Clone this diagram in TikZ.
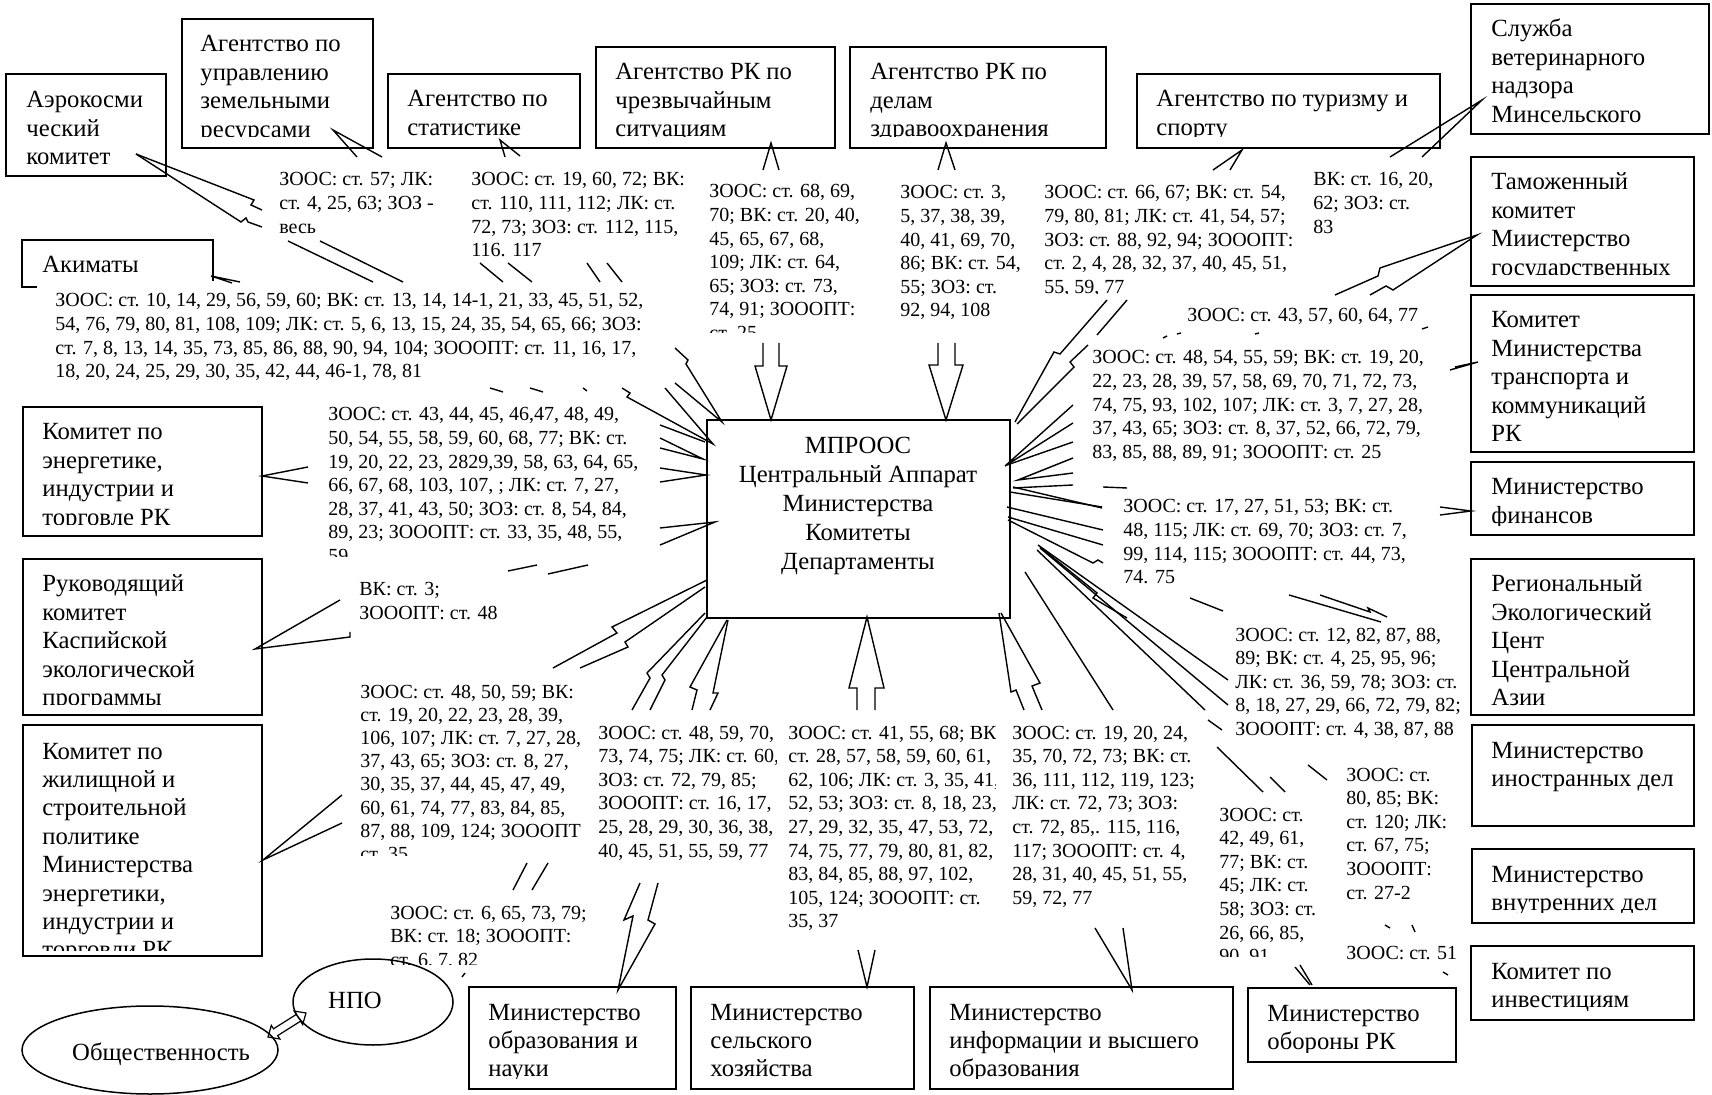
\documentclass[tikz,border=0pt]{standalone}
\usepackage{fontspec}
\setmainfont{Liberation Serif}
\usetikzlibrary{fit,shapes.geometric}
\newcommand\bfnt{\fontsize{12.35}{14.2}\selectfont}
\newcommand\lfnt{\fontsize{10.0}{11.8}\selectfont}
\tikzset{
 obox/.style={draw, line width=0.75pt, inner sep=0pt},
 btxt/.style={font=\bfnt, inner sep=0pt, anchor=base west},
 ctxt/.style={font=\bfnt, inner sep=0pt, anchor=base},
 ltxt/.style={font=\lfnt, inner sep=0pt, anchor=base west},
 con/.style={line width=0.7pt, line join=miter},
}
% name, style, x, first baseline, dy, clip bottom, clip right, lines
\newcommand\mytxt[8]{\begin{scope}\clip (#3-20,#4-40) rectangle (#7,#6);
 \foreach \t [count=\i] in {#8} {\node[#2] (#1-\i) at (#3,{#4+#5*(\i-1)}) {\t};}\end{scope}}
\newcommand\bx[5]{\node[obox, fit={(#2,#3) (#4,#5)}] (#1) {};}
\begin{document}
\begin{tikzpicture}[x=0.5pt,y=-0.5pt]
\fill[white] (0,0) rectangle (1712,1095);
\useasboundingbox (0,0) rectangle (1712,1095);
% ---------- boxes ----------
\bx{aero}{6}{74}{166}{176}
\mytxt{aeroT}{btxt}{26}{108}{28.4}{165}{400}{Аэрокосми,ческий,комитет}
\bx{zem}{182}{19}{373}{148}
\mytxt{zemT}{btxt}{200}{52}{28.4}{137}{370}{Агентство по,управлению,земельными,ресурсами}
\bx{stat}{388}{74}{580}{148}
\mytxt{statT}{btxt}{407}{107}{28.4}{137}{578}{Агентство по,статистике}
\bx{chs}{596}{47}{835}{148}
\mytxt{chsT}{btxt}{615}{80}{28.4}{137}{833}{Агентство РК по,чрезвычайным,ситуациям}
\bx{zdr}{850}{47}{1106}{148}
\mytxt{zdrT}{btxt}{870}{80}{28.4}{137}{1104}{Агентство РК по,делам,здравоохранения}
\bx{tur}{1137}{74}{1440}{148}
\mytxt{turT}{btxt}{1156}{107}{28.4}{137}{1438}{Агентство по туризму и,спорту}
\bx{vet}{1471}{4}{1709}{134}
\mytxt{vetT}{btxt}{1491}{37}{28.4}{123}{1707}{Служба,ветеринарного,надзора,Минсельского}
\bx{tam}{1471}{157}{1694}{286}
\mytxt{tamT}{btxt}{1491}{190}{28.4}{275}{1692}{Таможенный,комитет,Миистерство,государственных}
\bx{trn}{1471}{295}{1694}{452}
\mytxt{trnT}{btxt}{1491}{328}{28.4}{444}{1692}{Комитет,Министерства,транспорта и,коммуникаций,РК}
\bx{fin}{1471}{462}{1694}{535}
\mytxt{finT}{btxt}{1491}{495}{28.4}{526}{1692}{Министерство,финансов}
\bx{reg}{1471}{559}{1694}{715}
\mytxt{regT}{btxt}{1491}{592}{28.4}{706}{1692}{Региональный,Экологический,Цент,Центральной,Азии}
\bx{mid}{1472}{725}{1694}{826}
\mytxt{midT}{btxt}{1491}{758}{28.4}{815}{1692}{Министерство,иностранных дел}
\bx{mvd}{1472}{849}{1694}{923}
\mytxt{mvdT}{btxt}{1491}{882}{28.4}{912}{1692}{Министерство,внутренних дел}
\bx{inv}{1471}{946}{1694}{1020}
\mytxt{invT}{btxt}{1491}{979}{28.4}{1010}{1692}{Комитет по,инвестициям}
\bx{def}{1248}{988}{1456}{1062}
\mytxt{defT}{btxt}{1267}{1021}{28.4}{1052}{1454}{Министерство,обороны РК}
\bx{info}{930}{987}{1233}{1089}
\mytxt{infoT}{btxt}{949}{1020}{28.4}{1078}{1231}{Министерство,информации и высшего,образования}
\bx{sel}{691}{987}{914}{1089}
\mytxt{selT}{btxt}{710}{1020}{28.4}{1078}{912}{Министерство,сельского,хозяйства}
\bx{obr}{469}{987}{676}{1089}
\mytxt{obrT}{btxt}{488}{1020}{28.4}{1078}{674}{Министерство,образования и,науки}
\bx{ener}{23}{407}{262}{536}
\mytxt{enerT}{btxt}{42}{440}{28.4}{525}{260}{Комитет по,{энергетике,},индустрии и,торговле РК}
\bx{kasp}{23}{559}{262}{715}
\mytxt{kaspT}{btxt}{42}{592}{28.4}{704}{260}{Руководящий,комитет,Каспийской,экологической,программы}
\bx{zhil}{23}{725}{262}{956}
\mytxt{zhilT}{btxt}{42}{759}{28.4}{950}{260}{Комитет по,жилищной и,строительной,политике,Министерства,{энергетики,},индустрии и,торговли РК}
\node[inner sep=0pt, fit={(22,240) (213,287)}] (akim) {};
\draw[line width=0.75pt] (37,287)--(22,287)--(22,240)--(213,240)--(213,281);
\mytxt{akimT}{btxt}{42}{273}{28.4}{300}{210}{Акиматы}
% central box
\node[obox, fit={(707,420) (1010,618)}] (C) {};
\foreach \t [count=\i] in {МПРООС,Центральный Аппарат,Министерства,Комитеты,Департаменты}
  {\node[ctxt] (CT-\i) at (858,{454+29*(\i-1)}) {\t};}
% ellipses
\node[draw, ellipse, line width=0.75pt, minimum width=80pt, minimum height=43pt, inner sep=0pt] (npo) at (373,1002) {};
\node[font=\bfnt, inner sep=0pt] (npoT) at (355,1000) {НПО};
\node[draw, ellipse, line width=0.75pt, minimum width=128pt, minimum height=44pt, inner sep=0pt] (obs) at (150,1050) {};
\node[font=\bfnt, inner sep=0pt] (obsT) at (161,1054) {Общественность};
\draw[line width=0.6pt] (268,1037)--(279.9,1039.0)--(277.7,1035.6)--(300.5,1021.2)--(302.7,1024.6)--(306,1013)--(294.1,1011.0)--(296.3,1014.4)--(273.5,1028.8)--(271.3,1025.4)--cycle;
% ---------- labels ----------
\mytxt{l57}{ltxt}{279}{186}{23.6}{240}{470}{{ЗООС: ст. 57; ЛК:},{ст. 4, 25, 63; ЗОЗ  -},весь}
\mytxt{lst}{ltxt}{471}{186}{23.6}{262}{700}{{ЗООС: ст. 19, 60, 72; ВК:},{ст. 110, 111, 112; ЛК: ст.},{72, 73; ЗОЗ: ст. 112, 115,},116. 117}
\mytxt{lch}{ltxt}{709}{198}{23.6}{333}{900}{{ЗООС: ст. 68, 69,},{70; ВК: ст. 20, 40,},{45, 65, 67, 68,},{109; ЛК: ст. 64,},{65; ЗОЗ: ст. 73,},{74, 91; ЗОООПТ:},ст. 25}
\mytxt{lzd}{ltxt}{900}{199}{23.6}{340}{1040}{{ЗООС: ст. 3,},{5, 37, 38, 39,},{40, 41, 69, 70,},{86; ВК: ст. 54,},{55;  ЗОЗ: ст.},{92, 94, 108}}
\mytxt{ltu}{ltxt}{1044}{199}{23.6}{294}{1300}{{ЗООС: ст. 66, 67; ВК: ст. 54,},{79, 80, 81; ЛК: ст. 41, 54, 57;},{ЗОЗ: ст.  88, 92, 94; ЗОООПТ:},{ст. 2, 4, 28, 32, 37, 40, 45, 51,},{55, 59, 77}}
\mytxt{lvt}{ltxt}{1313}{186}{23.6}{260}{1465}{{ВК: ст. 16, 20,},{62; ЗОЗ: ст.},83}
\mytxt{ltm}{ltxt}{1187}{322}{23.6}{340}{1460}{{ЗООС: ст. 43, 57, 60, 64, 77}}
\mytxt{ltr}{ltxt}{1092}{364}{23.6}{470}{1460}{{ЗООС: ст. 48, 54, 55, 59; ВК: ст. 19, 20,},{22, 23, 28, 39, 57, 58, 69, 70, 71, 72, 73,},{74, 75, 93, 102, 107; ЛК: ст. 3, 7, 27, 28,},{37, 43, 65; ЗОЗ: ст.  8, 37, 52, 66, 72, 79,},{83, 85, 88, 89, 91; ЗОООПТ: ст. 25}}
\mytxt{lfi}{ltxt}{1123}{513}{23.6}{585}{1460}{{ЗООС: ст. 17, 27, 51, 53; ВК: ст.},{48, 115; ЛК: ст. 69, 70; ЗОЗ: ст.  7,},{99, 114, 115; ЗОООПТ: ст. 44, 73,},74. 75}
\mytxt{lre}{ltxt}{1235}{641}{23.6}{740}{1465}{{ЗООС: ст. 12, 82, 87, 88,},{89; ВК: ст. 4, 25, 95, 96;},{ЛК: ст. 36, 59, 78; ЗОЗ: ст.},{8, 18, 27, 29, 66, 72, 79, 82;},{ЗОООПТ: ст. 4, 38, 87, 88}}
\mytxt{lfo}{ltxt}{1346}{781}{23.6}{905}{1465}{ЗООС: ст.,{80, 85; ВК:},{ст. 120; ЛК:},{ст. 67, 75;},ЗОООПТ:,ст. 27-2}
\mytxt{ldf}{ltxt}{1219}{821}{23.6}{956}{1340}{ЗООС: ст.,{42, 49, 61,},{77; ВК: ст.},{45; ЛК: ст.},{58; ЗОЗ: ст.},{26, 66, 85,},{90, 91}}
\mytxt{lin}{ltxt}{1346}{959}{23.6}{980}{1465}{{ЗООС: ст. 51}}
\mytxt{lif}{ltxt}{1012}{739}{23.6}{915}{1215}{{ЗООС: ст. 19, 20, 24,},{35, 70, 72, 73; ВК: ст.},{36, 111, 112, 119, 123;},{ЛК: ст. 72, 73; ЗОЗ:},{ст. 72, 85,. 115, 116,},{117; ЗОООПТ: ст. 4,},{28, 31, 40, 45, 51, 55,},{59, 72, 77}}
\mytxt{lse}{ltxt}{788}{739}{23.6}{935}{995}{{ЗООС: ст. 41, 55, 68; ВК:},{ст. 28, 57, 58, 59, 60, 61,},{62, 106; ЛК: ст. 3, 35, 41,},{52, 53; ЗОЗ: ст. 8, 18, 23,},{27, 29, 32, 35, 47, 53, 72,},{74, 75, 77, 79, 80, 81, 82,},{83, 84, 85, 88, 97, 102,},{105, 124; ЗОООПТ: ст.},{35, 37}}
\mytxt{lob}{ltxt}{598}{739}{23.6}{870}{776}{{ЗООС: ст. 48, 59, 70,},{73, 74, 75; ЛК: ст. 60,},{ЗОЗ: ст. 72, 79, 85;},{ЗОООПТ: ст. 16, 17,},{25, 28, 29, 30, 36, 38,},{40, 45, 51, 55, 59, 77}}
\mytxt{lzh}{ltxt}{360}{698}{23.2}{855}{596}{{ЗООС: ст. 48, 50, 59; ВК:},{ст. 19, 20, 22, 23, 28, 39,},{106, 107; ЛК: ст. 7, 27, 28,},{37, 43, 65; ЗОЗ: ст. 8, 27,},{30, 35, 37, 44, 45, 47, 49,},{60, 61, 74, 77, 83, 84, 85,},{87, 88, 109, 124; ЗОООПТ},ст. 35}
\mytxt{lnp}{ltxt}{390}{919}{23.6}{964}{600}{{ЗООС: ст. 6, 65, 73, 79;},{ВК: ст. 18; ЗОООПТ:},{ст. 6, 7, 82}}
\mytxt{lka}{ltxt}{359}{596}{23.6}{650}{600}{{ВК: ст. 3;},{ЗОООПТ: ст. 48}}
\mytxt{len}{ltxt}{328}{421}{23.6}{557}{660}{{ЗООС: ст. 43, 44, 45, 46,47, 48, 49,},{50, 54, 55, 58, 59, 60, 68, 77; ВК: ст.},{19, 20, 22, 23, 2829,39, 58, 63, 64, 65,},{66, 67, 68, 103, 107, ; ЛК: ст. 7, 27,},{28,  37, 41, 43, 50; ЗОЗ: ст. 8, 54, 84,},{89, 23; ЗОООПТ: ст. 33, 35, 48, 55,},59}
\mytxt{lak}{ltxt}{55}{307}{23.6}{381}{700}{{ЗООС: ст. 10, 14, 29, 56, 59, 60; ВК: ст. 13, 14, 14-1, 21, 33, 45, 51, 52,},{54, 76, 79, 80, 81, 108, 109; ЛК: ст. 5, 6, 13, 15, 24, 35, 54, 65, 66; ЗОЗ:},{ст. 7, 8, 13, 14, 35, 73, 85, 86, 88, 90, 94, 104; ЗОООПТ: ст. 11, 16, 17,},{18, 20, 24, 25, 29, 30, 35, 42, 44, 46-1, 78, 81}}
% ---------- connectors ----------
% aerospace
\draw[con] (136,154)--(254,200)--(251,205)--(262,210);
\draw[con] (136,154)--(241,222)--(246,218)--(248,222)--(262,227);
\draw[con] (288,241)--(373,282);
\draw[con] (320,241)--(403,282);
% land resources
\draw[con] (357,157)--(333,130)--(382,157);
% statistics
\draw[con] (505,157)--(500,140)--(520,156);
\draw[con] (480,263)--(503,282);
\draw[con] (508,263)--(532,282);
\draw[con] (587,263)--(600,282);
\draw[con] (607,263)--(622,282);
% akimats
\draw[con] (240,282)--(211,276)--(232,283);
\draw[con] (490,388)--(503,392);
\draw[con] (530,388)--(543,392);
\draw[con] (583,388)--(587,391);
% emergency
\draw[con] (763,170)--(771,143)--(779,170);
\draw[con] (763,343)--(763,366)--(755,366)--(771,420)--(787,366)--(779,366)--(779,343);
% health
\draw[con] (938,170)--(946,143)--(955,170);
\draw[con] (938,343)--(938,365)--(929,365)--(946,420)--(963,365)--(955,365)--(955,343);
% tourism
\draw[con] (1213,170)--(1242,150)--(1230,170);
\draw[con] (1107,300)--(1060,354)--(1054,352)--(1015,422);
\draw[con] (1127,300)--(1097,335);
\draw[con] (1088,345)--(1070,362)--(1074,367)--(1017,424);
% veterinary
\draw[con] (1390,157)--(1482,100)--(1422,157);
% customs
\draw[con] (1335,295)--(1378,276)--(1380,268)--(1477,235)--(1393,290)--(1386,286)--(1370,295);
\draw[con] (1422,329)--(1428,327);
\draw[con] (1163,338)--(1167,336);
\draw[con] (1177,334)--(1181,333);
\draw[con] (1255,334)--(1259,333);
% transport
\draw[con] (1450,370)--(1478,362)--(1455,367);
\draw[con] (1073,405)--(1005,466)--(1073,423);
\draw[con] (1073,442)--(1007,465);
\draw[con] (1073,458)--(1018,480)--(1073,473);
\draw[con] (1013,488)--(1073,485);
% finance
\draw[con] (1440,507)--(1471,511)--(1440,515);
\draw[con] (1013,487)--(1102,508);
\draw[con] (1010,492)--(1102,507);
\draw[con] (1103,487)--(1127,488);
% lower right fan
\draw[con] (1007,507)--(1103,530);
\draw[con] (1008,517)--(1103,545);
\draw[con] (1008,520)--(1093,563)--(1098,560)--(1103,563);
\draw[con] (1040,547)--(1097,593)--(1093,598)--(1127,618);
\draw[con] (1038,545)--(1228,680);
\draw[con] (1040,548)--(1228,705);
\draw[con] (1037,550)--(1205,710);
\draw[con] (1025,572)--(1113,710);
\draw[con] (1190,598)--(1223,611);
\draw[con] (1289,595)--(1381,622);
\draw[con] (1320,595)--(1370,612)--(1368,608)--(1387,617);
\draw[con] (1208,720)--(1222,730);
\draw[con] (1217,747)--(1263,792);
\draw[con] (1270,777)--(1285,792);
\draw[con] (1308,765)--(1327,780);
\draw[con] (1385,925)--(1390,928);
\draw[con] (1412,925)--(1415,932);
\draw[con] (1443,972)--(1448,975);
\draw[con] (1295,967)--(1310,985);
\draw[con] (1300,965)--(1312,985);
% information (lightning)
\draw[con] (999,613)--(1011,692)--(1016,690)--(1024,710);
\draw[con] (1001,613)--(1040,683)--(1032,686)--(1042,710);
\draw[con] (1095,928)--(1132,990)--(1123,928);
% agriculture
\draw[con] (857,710)--(857,688)--(849,688)--(867,617)--(884,688)--(875,688)--(875,710);
\draw[con] (858,950)--(867,987)--(875,950);
% left fan
\draw[con] (622,388)--(630,393)--(627,397)--(713,444)--(665,388);
\draw[con] (675,348)--(688,360)--(686,364)--(722,422)--(675,383);
\draw[con] (660,425)--(705,442);
\draw[con] (660,438)--(703,459)--(660,448);
\draw[con] (660,468)--(706,475)--(660,482);
\draw[con] (660,528)--(715,522)--(660,545);
\draw[con] (508,571)--(537,565);
\draw[con] (548,574)--(588,565);
% energy / caspian / housing
\draw[con] (308,467)--(262,476)--(308,483);
\draw[con] (340,600)--(255,649)--(350,637)--(350,632);
\draw[con] (707,580)--(612,627)--(617,633)--(553,668);
\draw[con] (705,587)--(625,642)--(628,647)--(580,668);
\draw[con] (342,795)--(263,860)--(342,823);
% bottom-left fan
\draw[con] (705,613)--(647,673)--(650,678)--(632,710);
\draw[con] (707,617)--(662,675)--(665,680)--(650,710);
\draw[con] (727,620)--(690,687)--(697,690)--(692,710);
\draw[con] (728,620)--(713,693)--(718,693)--(710,710);
\draw[con] (513,890)--(527,863);
\draw[con] (532,890)--(548,863);
\draw[con] (462,977)--(465,973);
% education
\draw[con] (640,883)--(624,920)--(633,916)--(618,990)--(655,924)--(648,920)--(658,883);
\end{tikzpicture}
\end{document}
